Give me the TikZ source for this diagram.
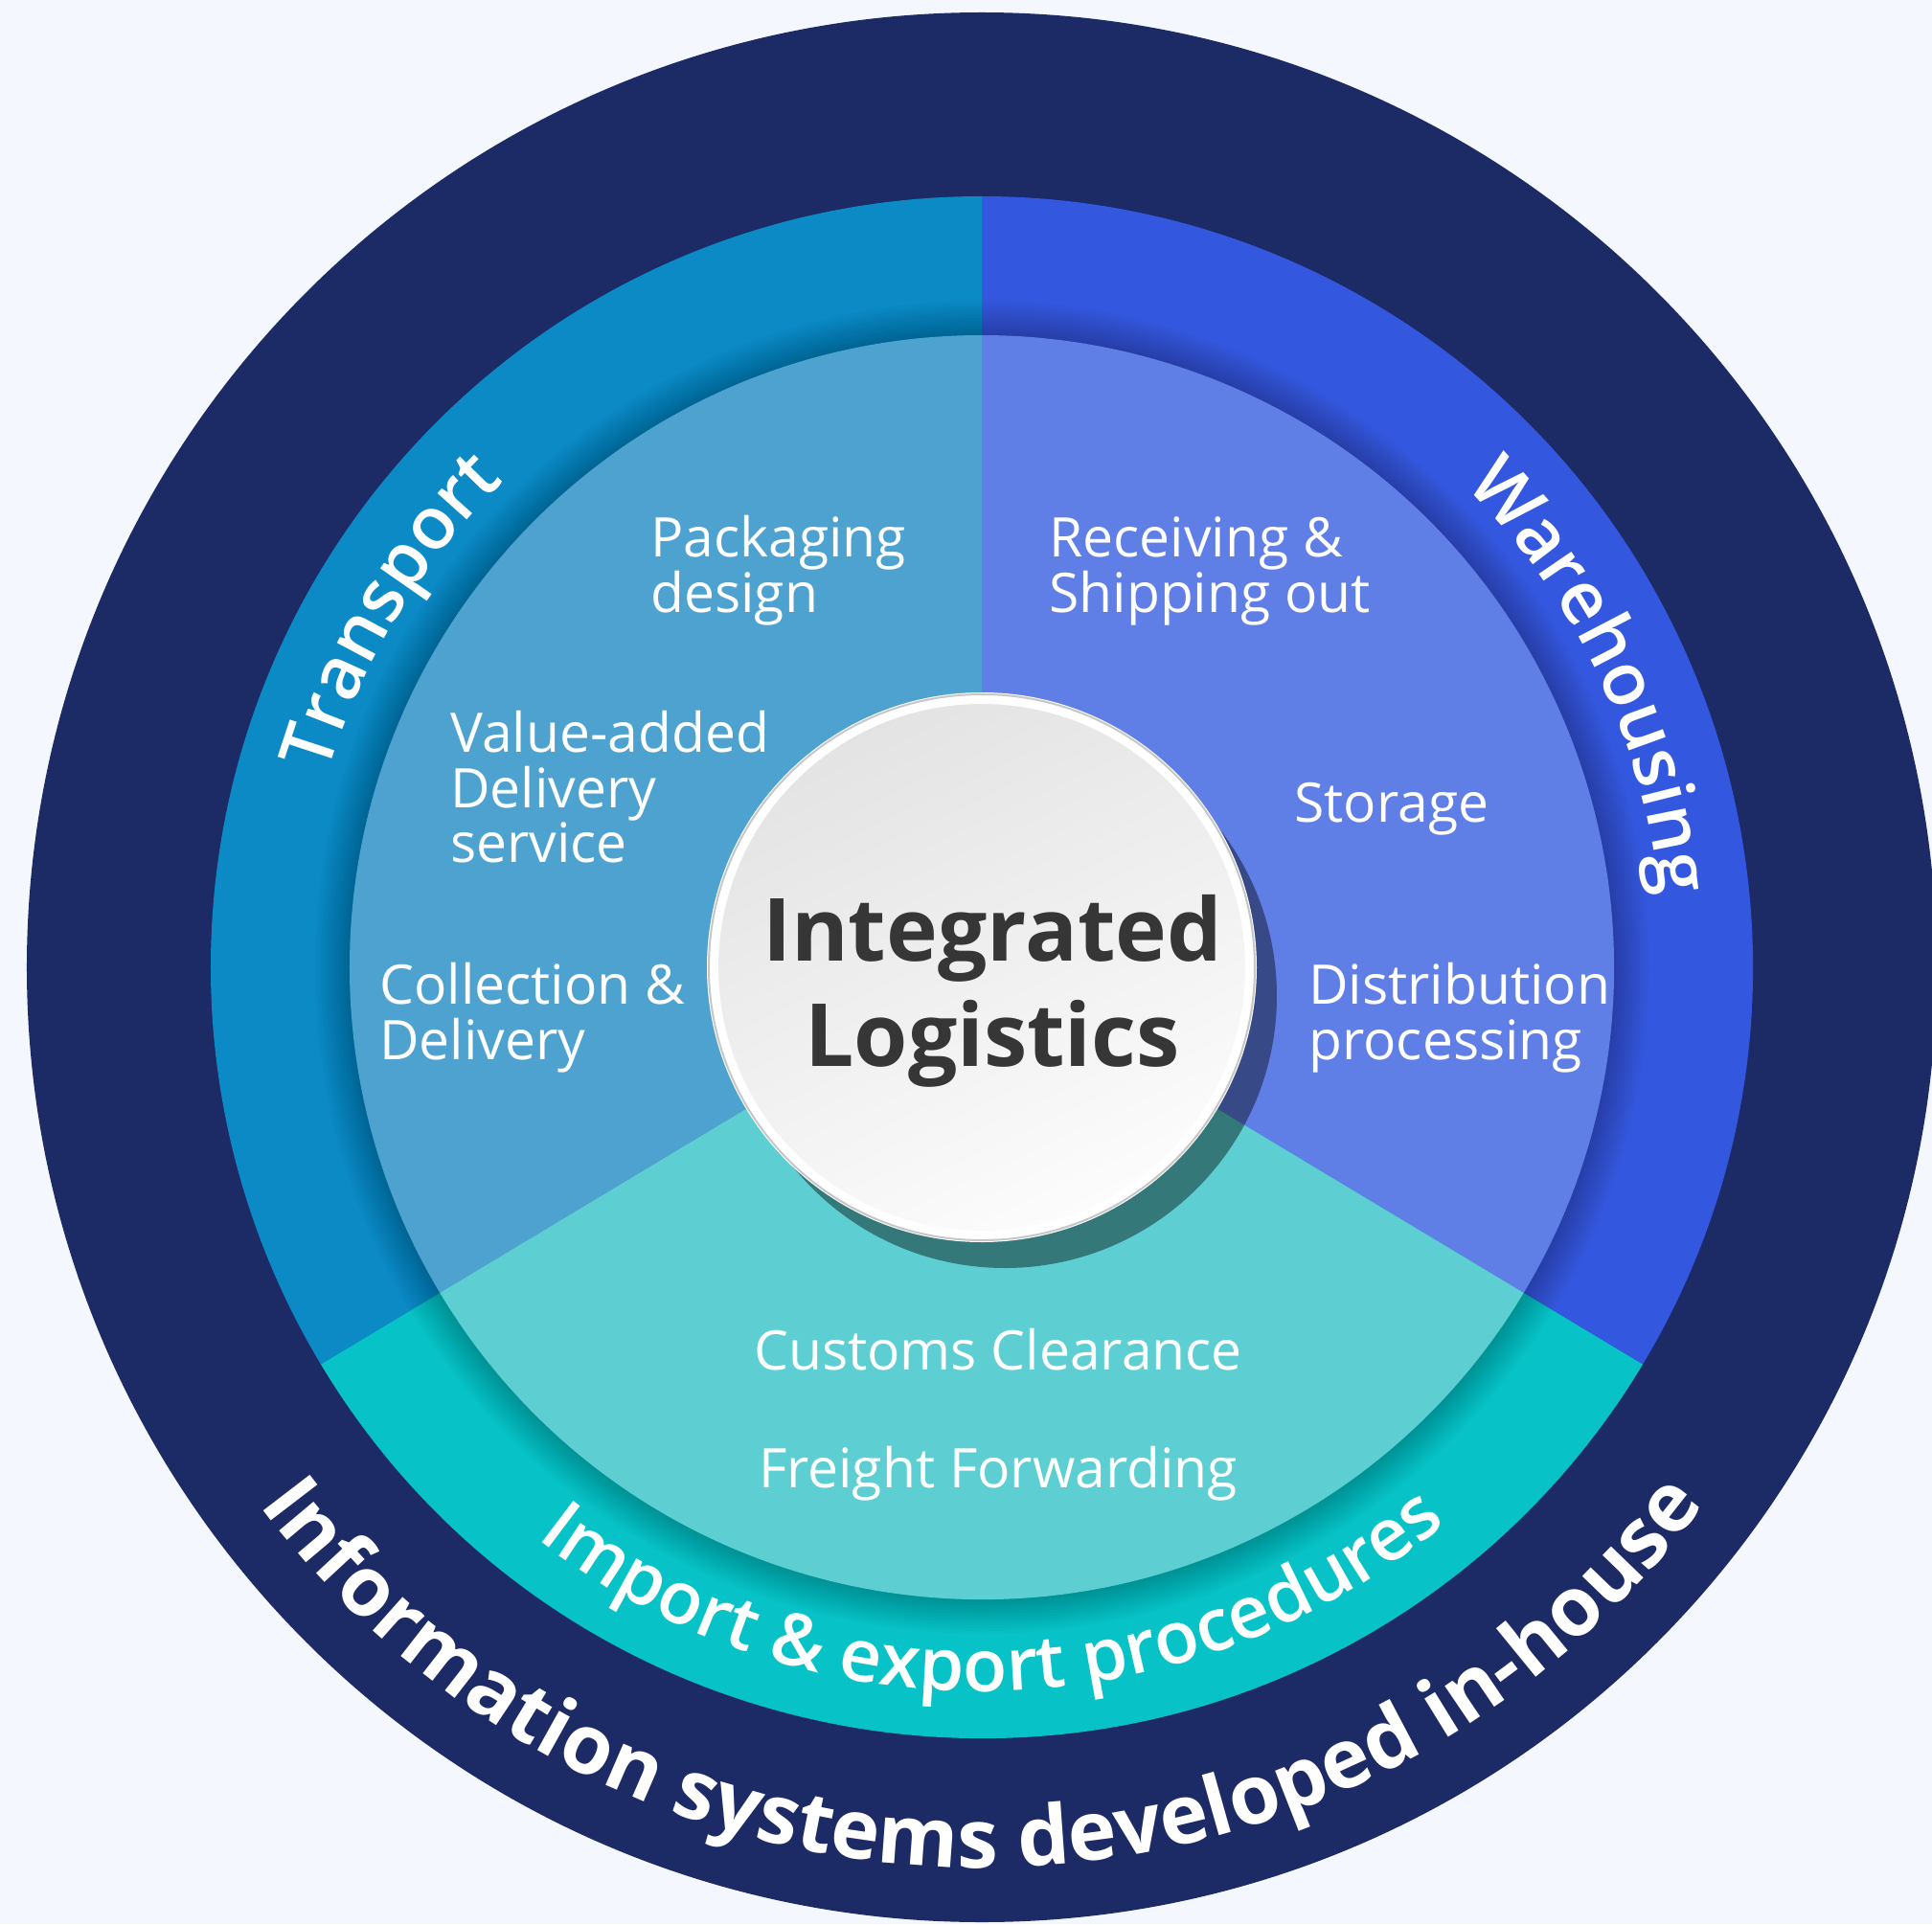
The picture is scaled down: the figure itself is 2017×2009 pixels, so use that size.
\documentclass[tikz,border=0pt]{standalone}
\usepackage{fontspec}
\setmainfont{Open Sans}
\newfontfamily\semib{Open Sans Semibold}
\usetikzlibrary{decorations.text}
\definecolor{bg}{HTML}{F4F7FE}
\definecolor{navy}{HTML}{1C2A66}
\definecolor{trR}{HTML}{0B8AC6}
\definecolor{trI}{HTML}{4EA2D0}
\definecolor{whR}{HTML}{3457DF}
\definecolor{whI}{HTML}{5F7FE7}
\definecolor{imR}{HTML}{07C3C7}
\definecolor{imI}{HTML}{5DCFD3}
\definecolor{ctext}{HTML}{363636}
\begin{document}
\begin{tikzpicture}[x=0.5pt,y=0.5pt,
  lbl/.style={text=white, font=\fontsize{28.5}{29}\selectfont, inner sep=0, anchor=base west},
  lblc/.style={lbl, anchor=base},
  ctr/.style={text=ctext, font=\fontsize{45.5}{50}\selectfont\bfseries, inner sep=0, anchor=base},
  ringtext/.style={decorate, decoration={text along path, text color=white, text align=center, text={#1}}}
  ]
\useasboundingbox (-1025,-999) rectangle (992,1010);
\fill[bg] (-1025,-999) rectangle (992,1010);
% outer ring
\fill[navy] (0,0) circle[radius=997];
% middle ring sectors
\fill[trR] (0,0) -- (90:805) arc[start angle=90, end angle=211, radius=805] -- cycle;
\fill[whR] (0,0) -- (-31:805) arc[start angle=-31, end angle=90, radius=805] -- cycle;
\fill[imR] (0,0) -- (211:805) arc[start angle=211, end angle=329, radius=805] -- cycle;
% soft shadow of inner disc
\foreach \i in {1,...,12} \fill[black, opacity=0.02] (0,0) circle[radius=660+3*\i];
% inner disc sectors
\fill[trI] (0,0) -- (90:660) arc[start angle=90, end angle=211, radius=660] -- cycle;
\fill[whI] (0,0) -- (-31:660) arc[start angle=-31, end angle=90, radius=660] -- cycle;
\fill[imI] (0,0) -- (211:660) arc[start angle=211, end angle=329, radius=660] -- cycle;
% central disc
\fill[black, opacity=0.42] (24,-30) circle[radius=284];
\shade[top color=black!11, bottom color=black!1, shading angle=25] (0,0) circle[radius=284];
\draw[white, line width=6] (0,0) circle[radius=281];
\draw[black!22, line width=1] (0,0) circle[radius=285];
\node[ctr] (c1) at (11,7) {Integrated};
\node[ctr] (c2) at (11,-103) {Logistics};
% labels
\node[lbl] (p1) at (-346,429) {Packaging};
\node[lbl] (p2) at (-346,371) {design};
\node[lbl] (r1) at (70,429) {Receiving \&};
\node[lbl] (r2) at (70,371) {Shipping out};
\node[lbl] (v1) at (-555,225) {Value-added};
\node[lbl] (v2) at (-555,167) {Delivery};
\node[lbl] (v3) at (-555,110) {service};
\node[lbl] (s1) at (326,152) {Storage};
\node[lbl] (k1) at (-629,-38) {Collection \&};
\node[lbl] (k2) at (-629,-96) {Delivery};
\node[lbl] (d1) at (341,-38) {Distribution};
\node[lbl] (d2) at (341,-96) {processing};
\node[lblc] (cc) at (17,-420) {Customs Clearance};
\node[lblc] (ff) at (17,-543) {Freight Forwarding};
% curved titles
\path[ringtext={|\fontsize{38}{40}\selectfont\semib|Transport}]
  (200:712) arc[start angle=200, end angle=98, radius=712];
\path[ringtext={|\fontsize{38}{40}\selectfont\semib|Warehousing}]
  (76.5:712) arc[start angle=76.5, end angle=-25.5, radius=712];
\path[ringtext={|\fontsize{38}{40}\selectfont\semib|Import {\&} export procedures}]
  (215:756) arc[start angle=215, end angle=327, radius=756];
\path[ringtext={|\fontsize{43}{46}\selectfont\bfseries|Information systems developed in-house}]
  (200:940) arc[start angle=200, end angle=340, radius=940];
\end{tikzpicture}
\end{document}
